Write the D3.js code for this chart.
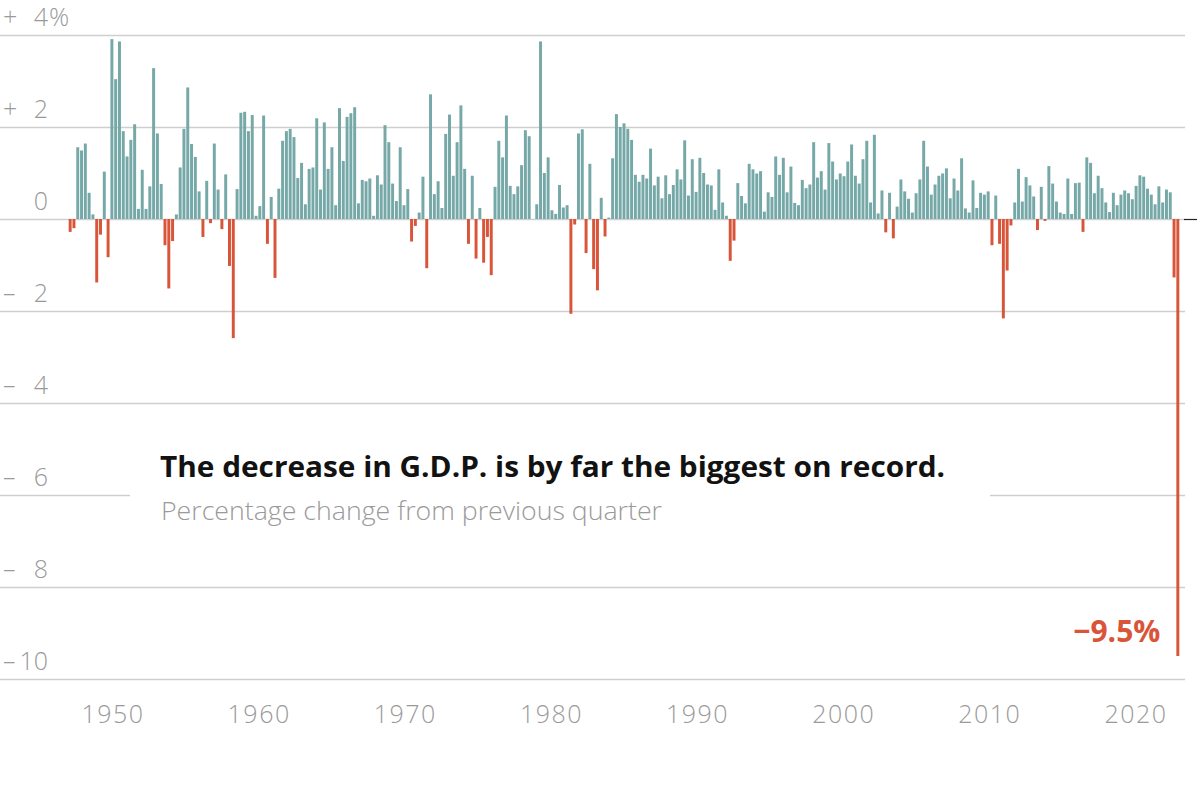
<!DOCTYPE html>
<html>
<head>
<meta charset="utf-8">
<script src="https://cdn.jsdelivr.net/npm/d3@7"></script>
<style>
  html, body { margin: 0; padding: 0; background: #fff; }
  svg { display: block; }
</style>
</head>
<body>
<svg id="chart" width="1200" height="799"></svg>
<script>
// Quarterly % change in U.S. G.D.P. (not annualized), 1947 Q2 – 2020 Q2
const startYear = 1947, startQuarter = 2;
const values = [
  -0.28, -0.2, 1.56,
  1.49, 1.64, 0.57, 0.1,
  -1.38, -0.34, 1.03, -0.83,
  3.91, 3.04, 3.86, 1.91,
  1.36, 1.72, 2.06, 0.22,
  1.07, 0.22, 0.71, 3.28,
  1.86, 0.76, -0.57, -1.51,
  -0.48, 0.1, 1.12, 1.96,
  2.86, 1.63, 1.35, 0.6,
  -0.39, 0.83, -0.09, 1.64,
  0.64, -0.22, 0.97, -1.02,
  -2.59, 0.65, 2.31, 2.33,
  1.91, 2.26, 0.07, 0.28,
  2.25, -0.54, 0.48, -1.28,
  0.66, 1.7, 1.91, 1.96,
  1.78, 0.89, 1.22, 0.32,
  1.09, 1.12, 2.19, 0.64,
  2.1, 1.09, 1.56, 0.3,
  2.41, 1.26, 2.22, 2.3,
  2.43, 0.34, 0.85, 0.82,
  0.88, 0.07, 0.95, 0.75,
  2.04, 1.67, 0.77, 0.39,
  1.56, 0.3, 0.65, -0.49,
  -0.15, 0.14, 0.92, -1.07,
  2.71, 0.54, 0.82, 0.24,
  1.85, 2.27, 0.94, 1.67,
  2.47, 1.09, -0.54, 0.94,
  -0.86, 0.24, -0.95, -0.39,
  -1.22, 0.7, 1.7, 1.34,
  2.25, 0.72, 0.54, 0.71,
  1.17, 1.93, 1.8, 0.0,
  0.32, 3.86, 1.0, 1.34,
  0.19, 0.11, 0.74, 0.25,
  0.3, -2.06, -0.12, 1.86,
  1.95, -0.74, 1.2, -1.09,
  -1.55, 0.46, -0.38, 0.03,
  1.32, 2.28, 2.0, 2.08,
  1.96, 1.72, 0.96, 0.81,
  0.96, 0.88, 1.53, 0.73,
  0.92, 0.45, 0.95, 0.54,
  0.74, 1.08, 0.86, 1.71,
  0.51, 1.3, 0.59, 1.33,
  1.0, 0.75, 0.73, 0.2,
  1.08, 0.36, 0.07, -0.91,
  -0.47, 0.78, 0.5, 0.34,
  1.2, 1.08, 0.99, 1.04,
  0.16, 0.58, 0.48, 1.36,
  0.96, 1.33, 0.58, 1.14,
  0.35, 0.3, 0.85, 0.67,
  0.75, 1.67, 0.9, 1.04,
  0.64, 1.65, 1.25, 0.86,
  0.99, 0.93, 1.25, 1.62,
  0.94, 0.77, 1.3, 1.7,
  0.36, 1.83, 0.12, 0.62,
  -0.29, 0.57, -0.42, 0.27,
  0.86, 0.6, 0.44, 0.14,
  0.56, 0.86, 1.7, 1.14,
  0.53, 0.75, 0.94, 0.99,
  1.1, 0.45, 0.88, 0.62,
  1.32, 0.23, 0.14, 0.84,
  0.24, 0.57, 0.53, 0.6,
  -0.57, 0.51, -0.54, -2.16,
  -1.12, -0.14, 0.36, 1.09,
  0.38, 0.91, 0.73, 0.49,
  -0.24, 0.7, -0.04, 1.15,
  0.77, 0.38, 0.14, 0.11,
  0.88, 0.11, 0.78, 0.79,
  -0.28, 1.34, 1.22, 0.56,
  0.94, 0.67, 0.36, 0.15,
  0.57, 0.3, 0.53, 0.62,
  0.56, 0.43, 0.72, 0.95,
  0.92, 0.66, 0.53, 0.32,
  0.71, 0.36, 0.64, 0.58,
  -1.27, -9.5
];
const quarters = values.map((v, i) => {
  const q0 = startQuarter - 1 + i;
  return (startYear + Math.floor(q0 / 4)) + " Q" + (q0 % 4 + 1);
});
const yTicks = [4, 2, 0, -2, -4, -6, -8, -10];
const yearTicks = [1950, 1960, 1970, 1980, 1990, 2000, 2010, 2020];
const title = "The decrease in G.D.P. is by far the biggest on record.";
const subtitle = "Percentage change from previous quarter";
const calloutLabel = "\u22129.5%";

const data = quarters.map((q, i) => ({ q, v: values[i] }));

const svg = d3.select("#chart");

const y = d3.scaleLinear().domain([-10, 4]).range([679, 35]);
const x = d3.scaleBand().domain(quarters).range([68.3, 1179.7]).paddingInner(0.22).paddingOuter(0.1);
const xYear = d3.scaleLinear().domain([1950, 2020]).range([113, 1136]);

const teal = "#76a8a8", red = "#d8553a", grid = "#cfcfcf", labelGray = "#9a9a9a";
const lightFont = "'Open Sans', Lato, sans-serif";
const boldFont = "'Open Sans', Roboto, sans-serif";

// gridlines
svg.append("g").selectAll("line").data(yTicks).join("line")
  .attr("x1", 0).attr("x2", 1185)
  .attr("y1", d => Math.round(y(d)) + 0.5).attr("y2", d => Math.round(y(d)) + 0.5)
  .attr("stroke", grid).attr("stroke-width", 1.5);

// y labels
const yl = svg.append("g").attr("font-family", lightFont)
  .attr("font-weight", 300).attr("font-size", 25).attr("fill", labelGray);
yl.selectAll("text.num").data(yTicks).join("text").attr("class", "num")
  .attr("x", 48).attr("y", d => y(d) - 9).attr("text-anchor", "end")
  .text(d => Math.abs(d));
yl.selectAll("text.sign").data(yTicks.filter(d => d !== 0)).join("text").attr("class", "sign")
  .attr("x", 3).attr("y", d => y(d) - 9).attr("text-anchor", "start")
  .text(d => d > 0 ? "+" : "\u2013");
yl.append("text").attr("x", 49).attr("y", y(4) - 9).text("%");

// zero baseline tick at right
svg.append("line").attr("x1", 1184).attr("x2", 1197)
  .attr("y1", Math.round(y(0)) + 0.5).attr("y2", Math.round(y(0)) + 0.5)
  .attr("stroke", "#222").attr("stroke-width", 1.2);

// bars
svg.append("g").selectAll("rect").data(data).join("rect")
  .attr("x", d => x(d.q))
  .attr("width", x.bandwidth())
  .attr("y", d => y(Math.max(0, d.v)))
  .attr("height", d => Math.abs(y(d.v) - y(0)))
  .attr("fill", d => d.v < 0 ? red : teal);

// title box
svg.append("rect").attr("x", 130).attr("y", 447).attr("width", 860).attr("height", 96).attr("fill", "#fff");
svg.append("text").attr("x", 160).attr("y", 477)
  .attr("font-family", boldFont).attr("font-weight", 700)
  .attr("font-size", 28).attr("fill", "#121212")
  .attr("textLength", 785).attr("lengthAdjust", "spacingAndGlyphs")
  .text(title);
svg.append("text").attr("x", 161).attr("y", 520)
  .attr("font-family", lightFont).attr("font-weight", 300)
  .attr("font-size", 25).attr("fill", labelGray)
  .attr("textLength", 501).attr("lengthAdjust", "spacingAndGlyphs")
  .text(subtitle);

// callout
const last = data[data.length - 1];
svg.append("text").attr("x", x(last.q) - 16).attr("y", y(last.v) - 14)
  .attr("text-anchor", "end")
  .attr("font-family", boldFont).attr("font-weight", 700)
  .attr("font-size", 30).attr("fill", red).text(calloutLabel);

// x labels
svg.append("g").selectAll("text").data(yearTicks).join("text")
  .attr("x", d => xYear(d)).attr("y", 723).attr("text-anchor", "middle")
  .attr("font-family", lightFont).attr("font-weight", 300)
  .attr("font-size", 25).attr("letter-spacing", 1.5).attr("fill", labelGray).text(d => d);
</script>
</body>
</html>
